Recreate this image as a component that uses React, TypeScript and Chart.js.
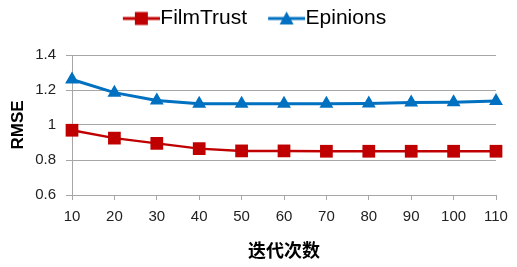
import React, { useEffect, useRef } from "react";
import { Chart, registerables } from "chart.js";

Chart.register(...registerables);

const categories = ["10", "20", "30", "40", "50", "60", "70", "80", "90", "100", "110"];
const filmTrust = [0.97, 0.925, 0.895, 0.865, 0.852, 0.852, 0.85, 0.85, 0.85, 0.85, 0.85];
const epinions = [1.26, 1.185, 1.14, 1.122, 1.122, 1.122, 1.122, 1.123, 1.128, 1.13, 1.137];
const yTickLabels: Record<string, string> = { "0.6": "0.6", "0.8": "0.8", "1": "1", "1.2": "1.2", "1.4": "1.4" };

const RED = "#C00000";
const BLUE = "#0070C0";
const GRID = "#A6A6A6";
const FONT = "'Liberation Sans', Arial, sans-serif";

function makeLegendIcon(color: string, kind: "rect" | "triangle"): HTMLCanvasElement {
  const W = 60, H = 16, L = 37;
  const c = document.createElement("canvas");
  c.width = W;
  c.height = H;
  const ctx = c.getContext("2d")!;
  const cy = H / 2;
  const x0 = W - L;
  ctx.strokeStyle = color;
  ctx.lineWidth = 3;
  ctx.beginPath();
  ctx.moveTo(x0, cy);
  ctx.lineTo(W, cy);
  ctx.stroke();
  const cx = x0 + L / 2;
  ctx.fillStyle = color;
  if (kind === "rect") {
    ctx.fillRect(cx - 6.5, cy - 6.5, 13, 13);
  } else {
    ctx.beginPath();
    ctx.moveTo(cx, cy - 7);
    ctx.lineTo(cx + 7, cy + 6);
    ctx.lineTo(cx - 7, cy + 6);
    ctx.closePath();
    ctx.fill();
  }
  return c;
}

export default function App() {
  const ref = useRef<HTMLCanvasElement>(null);
  useEffect(() => {
    if (!ref.current) return;
    const icons = [makeLegendIcon(RED, "rect"), makeLegendIcon(BLUE, "triangle")];
    const legendHeightPlugin = {
      id: "legendHeight",
      beforeLayout(chart: any) {
        const lg = chart.legend;
        if (lg && !lg.__patched) {
          const fit = lg.fit.bind(lg);
          lg.fit = function () {
            fit();
            this.height = 55;
          };
          lg.__patched = true;
        }
      },
    };
    const chart = new Chart(ref.current, {
      type: "line",
      data: {
        labels: categories,
        datasets: [
          {
            label: "FilmTrust",
            data: filmTrust,
            borderColor: RED,
            backgroundColor: RED,
            borderWidth: 2.5,
            pointStyle: "rect",
            pointRadius: 9,
            pointBorderWidth: 0,
            pointBackgroundColor: RED,
          },
          {
            label: "Epinions",
            data: epinions,
            borderColor: BLUE,
            backgroundColor: BLUE,
            borderWidth: 3,
            pointStyle: "triangle",
            pointRadius: 8,
            pointBorderWidth: 0,
            pointBackgroundColor: BLUE,
          },
        ],
      },
      options: {
        animation: false,
        responsive: true,
        maintainAspectRatio: false,
        layout: { padding: { left: 0, right: 21, top: 0, bottom: 0 } },
        plugins: {
          tooltip: { enabled: false },
          legend: {
            position: "top",
            labels: {
              usePointStyle: true,
              pointStyleWidth: 40,
              padding: 8,
              color: "#000",
              font: { family: FONT, size: 21 },
              generateLabels: (c: any) => {
                const items = (Chart.defaults.plugins.legend.labels as any).generateLabels(c);
                return items.map((it: any, i: number) => ({ ...it, pointStyle: icons[i] }));
              },
            },
          },
        },
        scales: {
          x: {
            type: "category",
            offset: false,
            afterFit: (s: any) => {
              s.height = 72;
            },
            grid: {
              display: true,
              drawOnChartArea: false,
              drawTicks: true,
              tickLength: 5,
              color: GRID,
            },
            border: { color: GRID },
            ticks: {
              padding: 8,
              color: "#222",
              font: { family: FONT, size: 15 },
              maxRotation: 0,
              autoSkip: false,
            },
            title: {
              display: true,
              text: "迭代次数",
              color: "#000",
              font: { family: "'Noto Sans CJK SC', sans-serif", size: 18, weight: "bold" },
              padding: { top: 0, bottom: 6 },
            },
          },
          y: {
            min: 0.6,
            max: 1.4,
            afterFit: (s: any) => {
              s.width = 72;
            },
            grid: { color: GRID, tickLength: 6, drawTicks: true },
            border: { color: GRID },
            ticks: {
              stepSize: 0.2,
              padding: 10,
              color: "#222",
              font: { family: FONT, size: 15 },
              callback: (v: any) => yTickLabels[String(Math.round(Number(v) * 10) / 10)] ?? "",
            },
            title: {
              display: true,
              text: "RMSE",
              color: "#000",
              font: { family: FONT, size: 17, weight: "bold" },
              padding: { top: 8, bottom: 0 },
            },
          },
        },
      },
      plugins: [legendHeightPlugin],
    });
    return () => chart.destroy();
  }, []);
  return (
    <div style={{ position: "fixed", left: 0, top: 0, width: 517, height: 267, background: "#fff" }}>
      <canvas ref={ref} />
    </div>
  );
}
